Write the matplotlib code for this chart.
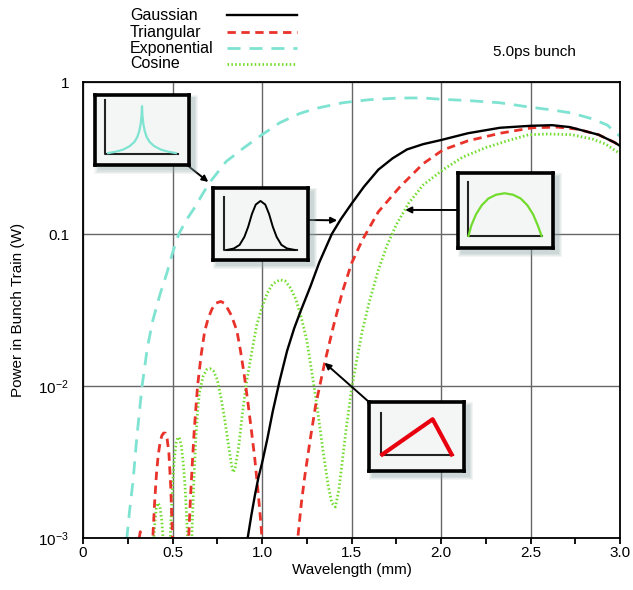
import matplotlib
matplotlib.use('Agg')
import matplotlib.pyplot as plt
from matplotlib.patches import Rectangle
from matplotlib.lines import Line2D
import numpy as np

plt.rcParams['font.family'] = ['Liberation Sans', 'DejaVu Sans']

# данные
gauss_x = [0.90, 0.92, 0.94, 0.96, 0.98, 1.00, 1.03, 1.06, 1.10, 1.14, 1.18, 1.22, 1.27, 1.32, 1.39,
           1.44, 1.50, 1.57, 1.65, 1.73, 1.81, 1.90, 2.00, 2.15, 2.33, 2.50, 2.62, 2.72, 2.79, 2.88,
           2.97, 3.00]
gauss_y = [0.0007, 0.001, 0.0014, 0.0019, 0.0025, 0.0031, 0.0045, 0.0068, 0.011, 0.017, 0.024, 0.032,
           0.045, 0.065, 0.10, 0.125, 0.158, 0.205, 0.265, 0.315, 0.36, 0.39, 0.415, 0.46, 0.50, 0.515,
           0.52, 0.505, 0.48, 0.45, 0.40, 0.38]

tri_x = [0.30, 0.32, 0.34, 0.36,
         0.38, 0.39, 0.40, 0.41, 0.42, 0.43, 0.44, 0.45, 0.46, 0.47, 0.48, 0.49, 0.50, 0.51,
         0.55, 0.59, 0.60, 0.61, 0.62, 0.63, 0.64, 0.66, 0.68, 0.70, 0.72, 0.74, 0.77, 0.79,
         0.81, 0.83, 0.86, 0.88, 0.90, 0.92, 0.94, 0.96, 0.98, 0.99, 1.00, 1.02,
         1.15, 1.18, 1.20, 1.22, 1.24, 1.27, 1.30, 1.35, 1.40, 1.45, 1.50, 1.56, 1.65, 1.77,
         1.90, 2.01, 2.15, 2.33, 2.51, 2.65, 2.76, 2.88, 2.97, 3.00]
tri_y = [0.0008, 0.0011, 0.0008, 0.0003,
         0.0004, 0.001, 0.0017, 0.0026, 0.0035, 0.0042, 0.0047, 0.0049, 0.0049, 0.0045, 0.0036,
         0.0022, 0.001, 0.0004,
         0.0003, 0.001, 0.0018, 0.003, 0.0048, 0.007, 0.010, 0.016, 0.023, 0.028, 0.032, 0.035,
         0.036, 0.035, 0.032, 0.029, 0.023, 0.017, 0.012, 0.008, 0.0052, 0.0033, 0.0019, 0.0014,
         0.001, 0.0004,
         0.0003, 0.0004, 0.001, 0.0017, 0.0026, 0.0045, 0.0075, 0.0142, 0.025, 0.042, 0.064,
         0.091, 0.14, 0.204, 0.29, 0.357, 0.41, 0.46, 0.50, 0.505, 0.49, 0.45, 0.40, 0.38]

exp_x = [0.23, 0.245, 0.26, 0.28, 0.30, 0.33, 0.36, 0.39, 0.43, 0.47, 0.50, 0.535, 0.58, 0.625,
         0.67, 0.71, 0.80, 0.90, 1.00, 1.10, 1.21, 1.30, 1.45, 1.60, 1.77, 1.90, 2.00, 2.15, 2.33,
         2.49, 2.62, 2.73, 2.85, 2.93, 2.97, 3.00]
exp_y = [0.0007, 0.001, 0.0015, 0.0024, 0.0045, 0.01, 0.018, 0.027, 0.04, 0.056, 0.075, 0.10, 0.125,
         0.15, 0.185, 0.22, 0.30, 0.37, 0.45, 0.54, 0.62, 0.67, 0.73, 0.765, 0.785, 0.785, 0.77,
         0.755, 0.73, 0.685, 0.655, 0.625, 0.57, 0.52, 0.47, 0.44]

cos_x = [0.37, 0.38, 0.39, 0.40, 0.41, 0.42, 0.43, 0.44, 0.45, 0.46, 0.47,
         0.48, 0.49, 0.50, 0.51, 0.52, 0.53, 0.54, 0.55, 0.56, 0.57, 0.58, 0.59, 0.60,
         0.61, 0.62, 0.63, 0.64, 0.65, 0.67, 0.69, 0.71, 0.73, 0.75, 0.77, 0.79, 0.81, 0.83,
         0.84, 0.85, 0.87, 0.89, 0.91, 0.94, 0.97, 1.00, 1.03, 1.06, 1.10, 1.13, 1.16, 1.19,
         1.22, 1.25, 1.28, 1.31, 1.34, 1.37, 1.39, 1.41, 1.43, 1.45, 1.47, 1.50, 1.53, 1.56,
         1.60, 1.65, 1.70, 1.75, 1.82, 1.90, 2.01, 2.12, 2.25, 2.37, 2.49, 2.60, 2.73, 2.85,
         2.92, 2.98, 3.00]
cos_y = [0.0002, 0.0004, 0.0008, 0.0012, 0.0016, 0.0017, 0.0016, 0.0013, 0.0009, 0.0005, 0.0003,
         0.0005, 0.0012, 0.0022, 0.0033, 0.0042, 0.0046, 0.0045, 0.004, 0.0031, 0.0022, 0.0013,
         0.0007, 0.0005,
         0.0012, 0.0025, 0.0045, 0.0068, 0.009, 0.0115, 0.0128, 0.013, 0.0125, 0.011, 0.0085,
         0.0062, 0.0043, 0.003, 0.0027, 0.0029, 0.004, 0.0065, 0.010, 0.016, 0.025, 0.033, 0.041,
         0.047, 0.05, 0.049, 0.044, 0.037, 0.028, 0.02, 0.012, 0.007, 0.0038, 0.0022, 0.0017,
         0.0016, 0.0021, 0.0033, 0.0052, 0.0095, 0.015, 0.023, 0.036, 0.058, 0.085, 0.115, 0.16,
         0.21, 0.264, 0.32, 0.37, 0.41, 0.45, 0.455, 0.45, 0.42, 0.39, 0.35, 0.34]

# формы сгустков для вставок (в долях вставки)
ins_exp_x = [0.14, 0.22, 0.30, 0.37, 0.42, 0.45, 0.47, 0.485, 0.495, 0.50,
             0.505, 0.515, 0.53, 0.55, 0.58, 0.63, 0.70, 0.78, 0.86]
ins_exp_y = [0.17, 0.19, 0.22, 0.27, 0.33, 0.40, 0.48, 0.58, 0.70, 0.84,
             0.70, 0.58, 0.48, 0.40, 0.33, 0.27, 0.22, 0.19, 0.17]
ins_gau_x = [0.15, 0.22, 0.28, 0.33, 0.37, 0.41, 0.45, 0.50, 0.55, 0.59, 0.63, 0.67, 0.72, 0.78, 0.86]
ins_gau_y = [0.14, 0.16, 0.21, 0.32, 0.46, 0.64, 0.77, 0.82, 0.77, 0.64, 0.46, 0.32, 0.21, 0.16, 0.14]
ins_cos_x = [0.11, 0.14, 0.19, 0.25, 0.32, 0.40, 0.49, 0.58, 0.66, 0.73, 0.79, 0.84, 0.88]
ins_cos_y = [0.16, 0.30, 0.45, 0.57, 0.66, 0.71, 0.73, 0.71, 0.66, 0.57, 0.45, 0.30, 0.16]
ins_tri_x = [0.14, 0.67, 0.87]
ins_tri_y = [0.24, 0.75, 0.24]

W, H = 633, 590
fig = plt.figure(figsize=(W / 100, H / 100), dpi=100)

def fx(px):
    return px / W

def fy(py):
    return 1 - py / H

CYAN = '#7fe3d2'
GREEN = '#72dc2e'
RED = '#e8322a'

ax = fig.add_axes([fx(83), fy(538), fx(620) - fx(83), fy(82) - fy(538)])
ax.set_yscale('log')
ax.set_xlim(0, 3.0)
ax.set_ylim(1e-3, 1)

ax.plot(exp_x, exp_y, color=CYAN, lw=2, dashes=(4.7, 3.2))
ax.plot(cos_x, cos_y, color=GREEN, lw=2, dashes=(0.55, 0.85))
ax.plot(tri_x, tri_y, color=RED, lw=2, dashes=(3, 2))
ax.plot(gauss_x, gauss_y, color='black', lw=1.7)

ax.set_xticks([0, 0.5, 1.0, 1.5, 2.0, 2.5, 3.0])
ax.set_xticklabels(['0', '0.5', '1.0', '1.5', '2.0', '2.5', '3.0'])
ax.set_xticks(np.arange(0.25, 3.0, 0.5), minor=True)
ax.set_yticks([1e-3, 1e-2, 0.1, 1])
ax.set_yticklabels([r'$\mathregular{10^{-3}}$', r'$\mathregular{10^{-2}}$', '0.1', '1'])
ax.yaxis.set_minor_locator(plt.NullLocator())
ax.tick_params(axis='x', which='both', direction='out', length=4, width=1.3, labelsize=11, pad=2)
ax.tick_params(axis='y', which='both', length=0, labelsize=11, pad=10)
ax.grid(True, which='major', color='#666666', lw=1)
for s in ax.spines.values():
    s.set_linewidth(1.3)
ax.set_xlabel('Wavelength (mm)', fontsize=11, labelpad=2)
ax.set_ylabel('Power in Bunch Train (W)', fontsize=11, labelpad=10)

# легенда вручную
names = ['Gaussian', 'Triangular', 'Exponential', 'Cosine']
rows = [15, 32, 48, 64]
styles = [dict(color='black', lw=1.7),
          dict(color=RED, lw=2, dashes=(3, 2)),
          dict(color=CYAN, lw=2, dashes=(4.7, 3.2)),
          dict(color=GREEN, lw=2, dashes=(0.55, 0.85))]
for n, r, st in zip(names, rows, styles):
    fig.text(fx(130), fy(r), n, fontsize=11.5, va='center', ha='left')
    fig.add_artist(Line2D([fx(227), fx(297)], [fy(r), fy(r)], transform=fig.transFigure, **st))

fig.text(fx(493), fy(52), '5.0ps bunch', fontsize=11, va='center', ha='left')

# стрелки от вставок
arrows = [((187, 165), (0.70, 0.22)),
          ((308, 220), (1.42, 0.123)),
          ((458, 210), (1.80, 0.144)),
          ((369, 402), (1.35, 0.0142))]
for (px, py), tip in arrows:
    ax.annotate('', xy=tip, xycoords='data', xytext=(fx(px), fy(py)), textcoords='figure fraction',
                arrowprops=dict(arrowstyle='-|>', color='black', lw=1.4, mutation_scale=9,
                                shrinkA=0, shrinkB=0), annotation_clip=False)

# вставки
boxes = [((95, 95, 189, 165), (0.106, 0.93, 0.157, 0.883), ins_exp_x, ins_exp_y, CYAN, 1.6),
         ((213, 188, 308, 260), (0.116, 0.875, 0.139, 0.884), ins_gau_x, ins_gau_y, 'black', 1.4),
         ((458, 173, 553, 248), (0.105, 0.88, 0.16, 0.884), ins_cos_x, ins_cos_y, GREEN, 1.6),
         ((369, 402, 464, 471), (0.126, 0.84, 0.232, 0.884), ins_tri_x, ins_tri_y, '#e8000f', 3)]
for (x0, y0, x1, y1), (vx, vt, hb, he), cx, cy, col, lw in boxes:
    for k, a in zip([9, 7, 5, 3], [0.10, 0.12, 0.14, 0.16]):
        fig.add_artist(Rectangle((fx(x0 + 4 - k / 2), fy(y1 + 4 + k / 2)),
                                 fx(x1 - x0 + k), (y1 - y0 + k) / H,
                                 transform=fig.transFigure, color='#8fa6a6', alpha=a, lw=0, zorder=2))
    ia = fig.add_axes([fx(x0), fy(y1), fx(x1 - x0), (y1 - y0) / H], zorder=3)
    ia.set_facecolor('#f4f6f6')
    ia.set_xlim(0, 1)
    ia.set_ylim(0, 1)
    ia.set_xticks([])
    ia.set_yticks([])
    for s in ia.spines.values():
        s.set_linewidth(2.6)
    ia.plot([vx, vx, he], [vt, hb, hb], color='#222222', lw=1.5)
    ia.plot(cx, cy, color=col, lw=lw)

fig.savefig('out.png', dpi=100)
